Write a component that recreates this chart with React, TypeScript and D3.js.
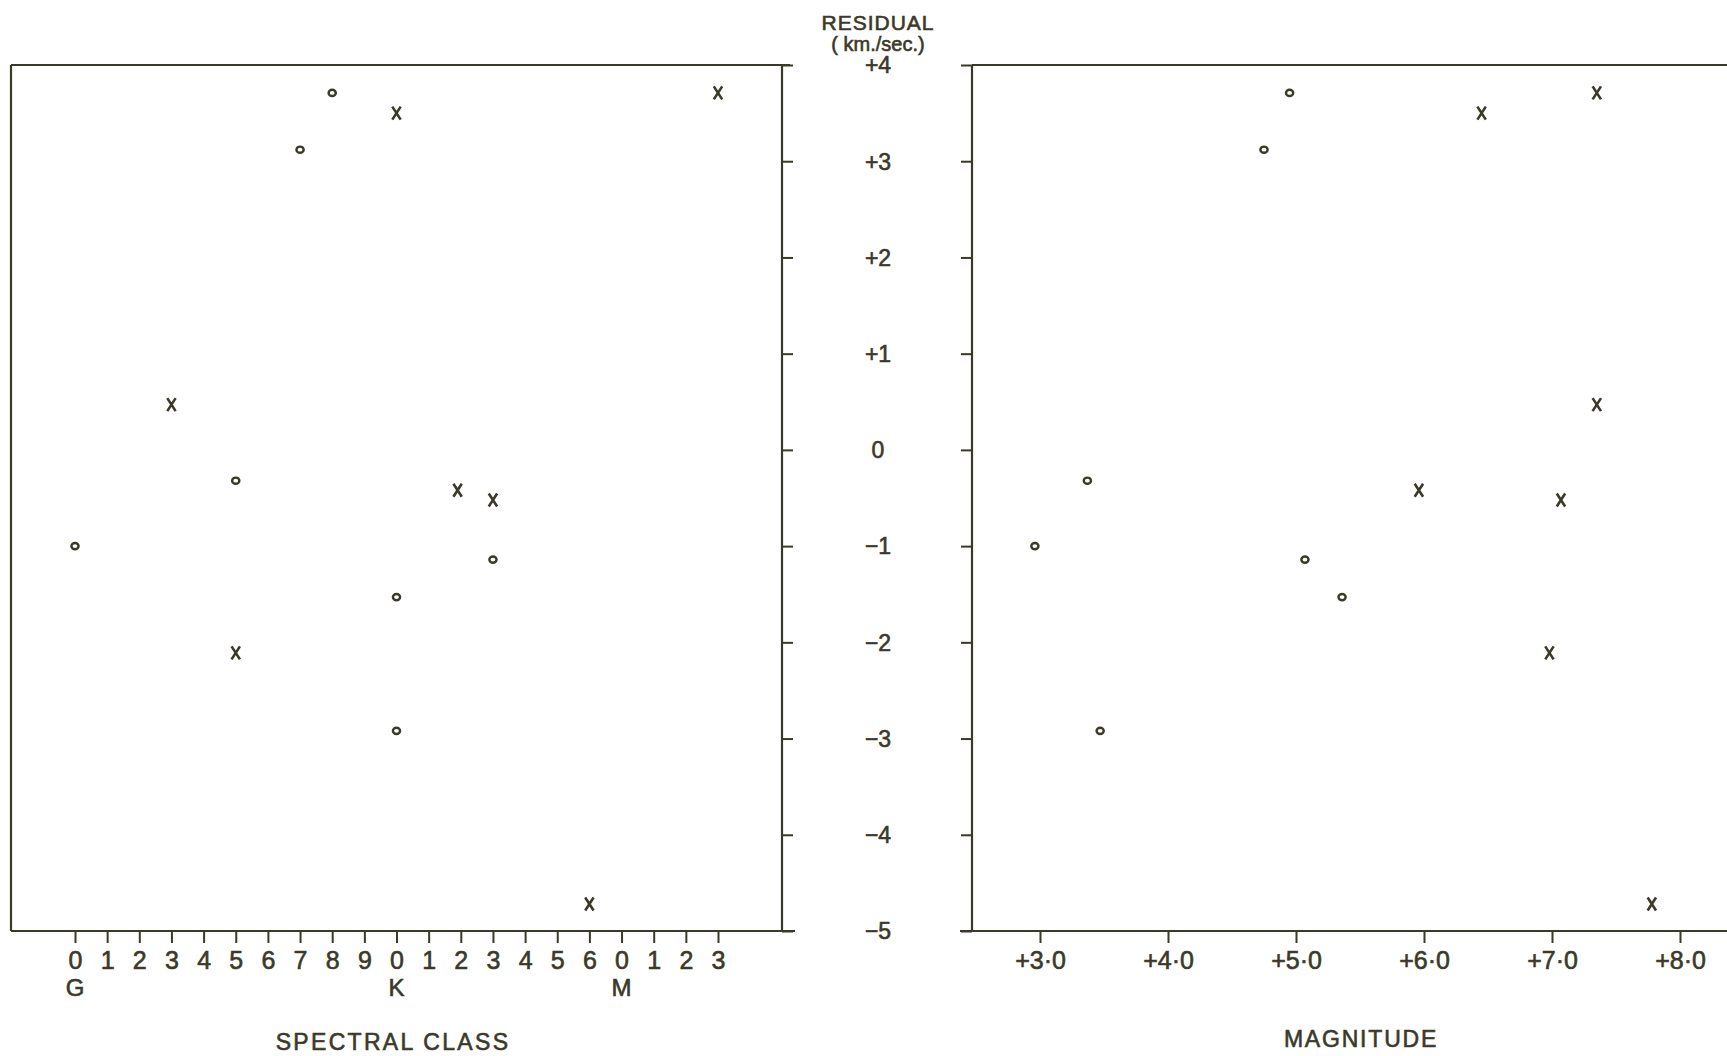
import React, { useRef, useEffect } from "react";
import * as d3 from "d3";

// spectral class axis: tick positions and their printed digits
const classTicks = [0, 1, 2, 3, 4, 5, 6, 7, 8, 9, 10, 11, 12, 13, 14, 15, 16, 17, 18, 19, 20];
const classTickLabels = ["0", "1", "2", "3", "4", "5", "6", "7", "8", "9", "0", "1", "2", "3", "4", "5", "6", "0", "1", "2", "3"];
const classLetterAt = [0, 10, 17];
const classLetters = ["G", "K", "M"];

const magTicks = [3, 4, 5, 6, 7, 8];
const magTickLabels = ["+3·0", "+4·0", "+5·0", "+6·0", "+7·0", "+8·0"];

const residualTicks = [4, 3, 2, 1, 0, -1, -2, -3, -4, -5];
const residualLabels = ["+4", "+3", "+2", "+1", "0", "−1", "−2", "−3", "−4", "−5"];

// one entry per star: spectral class index, magnitude, residual, symbol
const starClass = [0, 5, 10, 7, 8, 13, 10, 11.9, 10, 5, 13, 20, 3, 16];
const starMag = [2.96, 3.37, 3.47, 4.75, 4.95, 5.07, 5.36, 5.96, 6.45, 6.98, 7.07, 7.35, 7.35, 7.78];
const starResidual = [-1.0, -0.32, -2.92, 3.12, 3.71, -1.14, -1.53, -0.42, 3.5, -2.11, -0.52, 3.71, 0.47, -4.72];
const starSymbol = ["o", "o", "o", "o", "o", "o", "o", "x", "x", "x", "x", "x", "x", "x"];

const INK = "#3b3928";
const FONT = "'Liberation Sans', Arial, sans-serif";

const App = () => {
    const ref = useRef<SVGSVGElement | null>(null);

    useEffect(() => {
        document.body.style.margin = "0";
        if (!ref.current) return;
        const svg = d3.select(ref.current);
        svg.selectAll("*").remove();

        const top = 65;
        const bottom = 931;
        const leftL = 11;
        const leftR = 782;
        const rightL = 972;

        const y = d3.scaleLinear().domain([-5, 4]).range([bottom, top]);
        const xClass = d3.scaleLinear().domain([0, 20]).range([75, 718]);
        const xMag = d3.scaleLinear().domain([3, 8]).range([1040, 1680]);

        const line = (x1: number, y1: number, x2: number, y2: number) =>
            svg.append("line")
                .attr("x1", x1).attr("y1", y1).attr("x2", x2).attr("y2", y2)
                .attr("stroke", INK).attr("stroke-width", 2.2);

        // text gets a thin outline so it reads as heavy as the lettering
        const ink = (sel: any) =>
            sel.attr("font-family", FONT)
                .attr("fill", INK)
                .attr("stroke", INK)
                .attr("stroke-width", 0.6);

        // frames
        line(leftL, top, 790, top);
        line(leftL, top, leftL, bottom);
        line(leftR, top, leftR, bottom);
        line(leftL, bottom, 795, bottom);
        line(rightL, top, 1727, top);
        line(rightL, top, rightL, bottom);
        line(960, bottom, 1727, bottom);

        // residual ticks on both inner edges
        const yAxisL = svg.append("g")
            .attr("transform", `translate(${leftR},0)`)
            .call(d3.axisRight(y).tickValues(residualTicks).tickSize(11).tickFormat(() => ""));
        const yAxisR = svg.append("g")
            .attr("transform", `translate(${rightL},0)`)
            .call(d3.axisLeft(y).tickValues(residualTicks).tickSize(11).tickFormat(() => ""));
        [yAxisL, yAxisR].forEach((a) => {
            a.select(".domain").remove();
            a.selectAll(".tick line").attr("stroke", INK).attr("stroke-width", 2);
        });

        // residual labels in the gutter
        svg.append("g")
            .selectAll("text")
            .data(residualTicks)
            .join("text")
            .attr("x", 878)
            .attr("y", (d) => y(d))
            .attr("dy", "0.36em")
            .attr("text-anchor", "middle")
            .attr("font-size", 23)
            .call(ink)
            .text((d, i) => residualLabels[i]);

        svg.append("text")
            .attr("x", 878).attr("y", 30)
            .attr("text-anchor", "middle")
            .attr("font-size", 21)
            .attr("letter-spacing", 1)
            .call(ink)
            .text("RESIDUAL");
        svg.append("text")
            .attr("x", 878).attr("y", 51)
            .attr("text-anchor", "middle")
            .attr("font-size", 20)
            .call(ink)
            .text("( km./sec.)");

        // spectral class axis
        const xAxisC = svg.append("g")
            .attr("transform", `translate(0,${bottom})`)
            .call(d3.axisBottom(xClass).tickValues(classTicks).tickSize(12)
                .tickFormat((d, i) => classTickLabels[i]));
        // magnitude axis
        const xAxisM = svg.append("g")
            .attr("transform", `translate(0,${bottom})`)
            .call(d3.axisBottom(xMag).tickValues(magTicks).tickSize(12)
                .tickFormat((d, i) => magTickLabels[i]));
        [xAxisC, xAxisM].forEach((a) => {
            a.select(".domain").remove();
            a.selectAll(".tick line").attr("stroke", INK).attr("stroke-width", 2);
            a.selectAll(".tick text")
                .attr("y", 20)
                .attr("font-size", 25)
                .call(ink);
        });

        svg.append("g")
            .selectAll("text")
            .data(classLetterAt)
            .join("text")
            .attr("x", (d) => xClass(d))
            .attr("y", 996)
            .attr("text-anchor", "middle")
            .attr("font-size", 24)
            .call(ink)
            .text((d, i) => classLetters[i]);

        svg.append("text")
            .attr("x", 393).attr("y", 1050)
            .attr("text-anchor", "middle")
            .attr("font-size", 23)
            .attr("letter-spacing", 2.3)
            .call(ink)
            .text("SPECTRAL CLASS");
        svg.append("text")
            .attr("x", 1361).attr("y", 1047)
            .attr("text-anchor", "middle")
            .attr("font-size", 23)
            .attr("letter-spacing", 1.8)
            .call(ink)
            .text("MAGNITUDE");

        // points
        const stars = starClass.map((c, i) => ({
            c,
            m: starMag[i],
            r: starResidual[i],
            s: starSymbol[i],
        }));

        const drawMarks = (xf: (d: any) => number) => {
            const g = svg.append("g");
            g.selectAll("ellipse")
                .data(stars.filter((d) => d.s === "o"))
                .join("ellipse")
                .attr("cx", xf)
                .attr("cy", (d) => y(d.r))
                .attr("rx", 3.6)
                .attr("ry", 3.1)
                .attr("fill", "none")
                .attr("stroke", INK)
                .attr("stroke-width", 2.4);
            g.selectAll("path")
                .data(stars.filter((d) => d.s === "x"))
                .join("path")
                .attr("transform", (d) => `translate(${xf(d)},${y(d.r)})`)
                .attr("d", "M-4.2,-6.5L4.2,6.5M4.2,-6.5L-4.2,6.5")
                .attr("fill", "none")
                .attr("stroke", INK)
                .attr("stroke-width", 2.6);
        };
        drawMarks((d) => xClass(d.c));
        drawMarks((d) => xMag(d.m));
    }, []);

    return (
        <svg
            ref={ref}
            width={1727}
            height={1056}
            style={{ display: "block", background: "#ffffff" }}
        />
    );
};

export default App;
